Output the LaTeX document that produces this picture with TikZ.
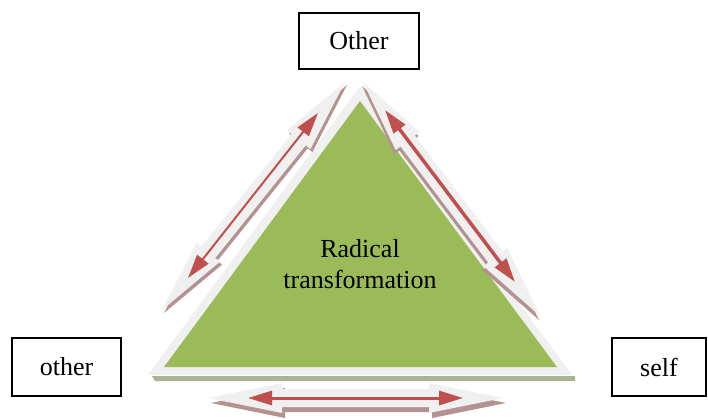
\documentclass[tikz,border=0pt]{standalone}
\usepackage{fontspec}
\setmainfont{Liberation Serif}
\usetikzlibrary{calc,arrows.meta}

\definecolor{leaf}{HTML}{9BBB59}
\definecolor{brick}{HTML}{C0504D}
\definecolor{mist}{HTML}{F0F0F0}
\definecolor{dusk}{HTML}{B59292}
\definecolor{moss}{HTML}{A9B494}

% wide double arrow from #1 to #2, filled with #3
\def\headlen{74pt}
\def\headhw{15pt}
\def\shafthw{9pt}
\newcommand{\blockarrow}[3]{%
  \coordinate (ba1) at ($(#1)!\headlen!(#2)$);
  \coordinate (ba2) at ($(#2)!\headlen!(#1)$);
  \fill[#3] (#1) -- ($(ba1)!\headhw!90:(#2)$) -- ($(ba1)!\shafthw!90:(#2)$)
    -- ($(ba2)!\shafthw!-90:(#1)$) -- ($(ba2)!\headhw!-90:(#1)$) -- (#2)
    -- ($(ba2)!\headhw!90:(#1)$) -- ($(ba2)!\shafthw!90:(#1)$)
    -- ($(ba1)!\shafthw!-90:(#2)$) -- ($(ba1)!\headhw!-90:(#2)$) -- cycle;}

\begin{document}
\begin{tikzpicture}[x=1pt,y=-1pt,
    namebox/.style={draw, line width=1.4pt, inner sep=0pt, font=\fontsize{26}{31}\selectfont},
    redarrow/.style={brick, {Triangle[length=24pt,width=14pt]}-{Triangle[length=24pt,width=14pt]}}]
    \useasboundingbox (0,0) rectangle (708,418);

        % triangle
        \fill[moss] (152,376) -- (575,376) -- (575,381) -- (155,381) -- cycle;
        \fill[mist] (360,86) -- (572,375) -- (148,375) -- cycle;
        \fill[leaf] (360,101) -- (557,367) -- (164,367) -- cycle;
        \node[align=center, font=\fontsize{26}{31}\selectfont] (core) at (360,264) {Radical\\transformation};

        % ends of the arrows
        \coordinate (lt) at (345,82);
        \coordinate (lb) at (162,310);
        \coordinate (rt) at (363,82);
        \coordinate (rb) at (540,316);
        \coordinate (bl) at (208,398);
        \coordinate (br) at (503,398);
        \coordinate (lrt) at (318,113);
        \coordinate (lrb) at (188,278);
        \coordinate (rrt) at (385,110);
        \coordinate (rrb) at (515,282);
        \coordinate (brl) at (248,398);
        \coordinate (brr) at (463,398);

        % shadows
        \begin{scope}[transform canvas={shift={(2pt,-3pt)}}]
            \blockarrow{lt}{lb}{dusk}
        \end{scope}
        \begin{scope}[transform canvas={shift={(-1pt,-4pt)}}]
            \blockarrow{rt}{rb}{dusk}
        \end{scope}
        \begin{scope}[transform canvas={shift={(3pt,-5pt)}}]
            \blockarrow{bl}{br}{dusk}
        \end{scope}
        \blockarrow{lt}{lb}{mist}
        \blockarrow{rt}{rb}{mist}
        \blockarrow{bl}{br}{mist}

        \draw[redarrow, line width=2pt] (lrt) -- (lrb);
        \draw[redarrow, line width=3.5pt] (rrt) -- (rrb);
        \draw[redarrow, line width=3pt] (brl) -- (brr);

        \node[namebox, minimum width=120pt, minimum height=56pt] (Other) at (359,41) {Other};
        \node[namebox, minimum width=109pt, minimum height=58pt] (other) at (66.5,367) {other};
        \node[namebox, minimum width=94pt, minimum height=58pt] (self) at (659,367) {self};

\end{tikzpicture}
\end{document}
